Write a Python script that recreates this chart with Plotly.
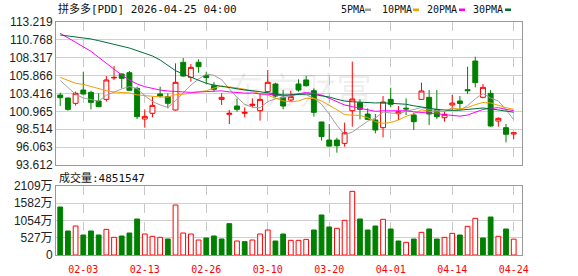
import plotly.graph_objects as go

# ---------------- data ----------------
dates = ["01-29", "01-30",
         "02-02", "02-03", "02-04", "02-05", "02-06", "02-09", "02-10", "02-11", "02-12", "02-13",
         "02-17", "02-18", "02-19", "02-20", "02-23", "02-24", "02-25", "02-26", "02-27",
         "03-02", "03-03", "03-04", "03-05", "03-06", "03-09", "03-10", "03-11", "03-12", "03-13",
         "03-16", "03-17", "03-18", "03-19", "03-20", "03-23", "03-24", "03-25", "03-26", "03-27",
         "03-30", "03-31", "04-01", "04-02", "04-06", "04-07", "04-08", "04-09", "04-10",
         "04-13", "04-14", "04-15", "04-16", "04-17", "04-20", "04-21", "04-22", "04-23", "04-24"]

tick_dates = ["02-03", "02-13", "02-26", "03-10", "03-20", "04-01", "04-14", "04-24"]

open_ = [103.21, 102.80, 102.07, 103.89, 103.57, 102.39, 102.61, 105.55, 106.09, 106.27,
         104.12, 99.92, 100.70, 103.35, 102.98, 101.15, 107.69, 105.63, 107.69, 105.86,
         104.49, 102.61, 100.56, 101.70, 100.70, 101.79, 101.06, 103.67, 104.72, 102.89,
         102.52, 104.72, 105.27, 103.80, 99.51, 97.04, 97.04, 96.58, 101.06, 102.16,
         100.60, 99.78, 98.73, 102.61, 100.65, 101.40, 100.47, 102.61, 102.89, 101.24,
         100.10, 101.84, 102.39, 103.94, 107.87, 102.89, 103.44, 99.64, 98.73, 97.86]
high = [103.53, 102.85, 103.67, 106.41, 103.80, 103.44, 105.81, 107.18, 106.18, 106.50,
        104.35, 101.24, 102.98, 104.35, 103.44, 107.55, 108.28, 107.46, 108.10, 106.41,
        104.99, 103.44, 101.15, 102.71, 101.52, 102.75, 103.35, 106.64, 104.90, 103.89,
        103.80, 105.36, 105.81, 104.12, 99.55, 99.23, 97.36, 99.42, 107.78, 102.61,
        101.38, 100.60, 103.07, 104.21, 101.70, 102.75, 100.79, 104.90, 103.89, 103.89,
        100.92, 103.21, 103.07, 107.09, 108.46, 104.72, 103.89, 100.15, 99.23, 98.09]
low = [101.70, 101.06, 101.75, 103.25, 101.24, 101.55, 102.30, 105.27, 104.12, 103.80,
       99.90, 98.73, 100.15, 102.89, 101.38, 101.06, 105.72, 105.04, 106.27, 104.81,
       103.67, 101.84, 99.23, 100.92, 100.15, 101.52, 99.69, 103.53, 102.89, 101.24,
       102.30, 103.67, 104.35, 100.24, 96.95, 96.12, 95.30, 96.12, 98.87, 99.87,
       99.78, 97.95, 97.40, 101.52, 99.78, 100.47, 98.41, 102.52, 99.10, 99.92,
       99.55, 101.15, 101.24, 103.35, 104.26, 102.75, 98.87, 98.87, 96.72, 97.13]
close = [102.84, 101.24, 103.44, 103.35, 102.20, 101.61, 105.27, 105.62, 105.49, 103.85,
         100.24, 100.28, 101.79, 103.07, 102.07, 104.95, 105.81, 107.00, 107.09, 105.59,
         103.99, 102.89, 100.70, 101.24, 100.83, 101.93, 102.61, 104.95, 103.07, 101.70,
         102.98, 103.89, 104.49, 100.83, 97.50, 96.20, 96.25, 98.04, 102.66, 101.24,
         99.87, 98.41, 102.25, 101.93, 100.92, 101.30, 99.55, 103.76, 100.60, 100.24,
         100.56, 102.10, 102.05, 103.80, 104.90, 104.26, 98.96, 100.01, 97.82, 98.04]
prev_close_before = 103.60

ma5 = [105.20, 104.20, 103.30, 102.80, 102.61, 102.37, 103.17, 103.61, 104.04, 104.37,
       104.09, 103.10, 102.33, 101.85, 101.49, 102.43, 103.54, 104.58, 105.38, 106.09,
       105.90, 105.31, 104.05, 102.88, 101.93, 101.52, 101.46, 102.31, 102.68, 102.85,
       103.06, 103.32, 103.23, 102.78, 101.94, 100.58, 99.05, 97.76, 98.13, 98.88,
       99.61, 100.04, 100.89, 100.74, 100.68, 100.96, 101.19, 101.49, 101.23, 101.09,
       100.94, 101.45, 101.11, 101.75, 102.68, 103.42, 102.79, 102.39, 101.19, 99.82]
ma10 = [105.63, 105.18, 104.81, 104.67, 104.35, 104.03, 103.80, 103.62, 103.53, 103.49,
        103.23, 103.14, 102.97, 102.94, 102.93, 103.26, 103.32, 103.46, 103.62, 103.79,
        104.16, 104.43, 104.32, 104.13, 104.01, 103.71, 103.39, 103.18, 102.78, 102.39,
        102.29, 102.39, 102.77, 102.73, 102.40, 101.82, 101.19, 100.50, 100.45, 100.41,
        100.10, 99.55, 99.33, 99.44, 99.78, 100.29, 100.62, 101.19, 100.98, 100.88,
        100.95, 101.32, 101.30, 101.49, 101.89, 102.18, 102.12, 101.75, 101.47, 101.25]
ma20 = [111.66, 111.07, 110.47, 109.88, 109.20, 108.37, 107.55, 106.73, 105.95, 105.27,
        104.72, 104.35, 104.08, 103.89, 103.76, 103.67, 103.57, 103.57, 103.62, 103.64,
        103.70, 103.78, 103.64, 103.54, 103.47, 103.49, 103.35, 103.32, 103.20, 103.09,
        103.23, 103.41, 103.54, 103.43, 103.20, 102.76, 102.29, 101.84, 101.62, 101.40,
        101.19, 100.97, 101.05, 101.08, 101.09, 101.05, 100.90, 100.84, 100.72, 100.65,
        100.52, 100.44, 100.31, 100.46, 100.83, 101.23, 101.37, 101.47, 101.23, 101.07]
ma30 = [111.44, 111.30, 111.16, 111.07, 110.89, 110.66, 110.43, 110.20, 109.93, 109.65,
        109.29, 108.92, 108.56, 108.01, 107.32, 106.54, 106.09, 105.63, 105.18, 104.81,
        104.58, 104.40, 104.21, 104.03, 103.89, 103.80, 103.67, 103.53, 103.39, 103.22,
        103.23, 103.32, 103.35, 103.27, 103.11, 102.93, 102.63, 102.38, 102.28, 102.20,
        102.18, 102.12, 102.14, 102.10, 102.06, 101.94, 101.73, 101.62, 101.41, 101.23,
        101.11, 101.09, 101.13, 101.22, 101.35, 101.43, 101.31, 101.14, 100.97, 100.85]

# volume in 万 shares
volume = [1467, 734, 886, 611, 734, 611, 784, 540, 581, 672,
          1100, 642, 571, 540, 489, 1528, 672, 642, 458, 520,
          581, 489, 958, 428, 408, 458, 642, 764, 428, 642,
          448, 448, 479, 764, 1223, 856, 815, 1060, 1946, 1100,
          764, 886, 1090, 795, 428, 387, 489, 693, 795, 489,
          540, 662, 611, 876, 1121, 520, 1161, 571, 795, 485.1547]

price_ticks = [93.612, 96.063, 98.514, 100.965, 103.416, 105.866, 108.317, 110.768, 113.219]
price_labels = ["93.612", "96.063", "98.514", "100.965", "103.416", "105.866", "108.317", "110.768", "113.219"]
vol_ticks = [0, 527, 1054, 1582, 2109]
vol_labels = ["0", "527万", "1054万", "1582万", "2109万"]

title_text = "拼多多[PDD] 2026-04-25 04:00"
vol_title = "成交量:4851547"
ma_names = ["5PMA", "10PMA", "20PMA", "30PMA"]
ma_colors = ["#a0a0a0", "#f0a000", "#ff00ff", "#006f3a"]

# ---------------- figure ----------------
RED = "#ff0000"
GREEN = "#008000"
xs = list(range(len(dates)))
tickvals = [dates.index(d) for d in tick_dates]

fig = go.Figure()
fig.add_trace(go.Candlestick(
    x=xs, open=open_, high=high, low=low, close=close,
    increasing=dict(line=dict(color=RED, width=1), fillcolor="#ffffff"),
    decreasing=dict(line=dict(color=GREEN, width=1), fillcolor=GREEN),
    whiskerwidth=0, showlegend=False, hoverinfo="skip", xaxis="x", yaxis="y"))

for name, col, ser in zip(ma_names, ma_colors, [ma5, ma10, ma20, ma30]):
    fig.add_trace(go.Scatter(x=xs, y=ser, mode="lines", name=name,
                             line=dict(color=col, width=1), showlegend=False,
                             hoverinfo="skip", xaxis="x", yaxis="y"))

prevs = [prev_close_before] + close[:-1]
up = [c > p for c, p in zip(close, prevs)]
fig.add_trace(go.Bar(
    x=xs, y=volume, width=0.62,
    marker=dict(color=["#ffffff" if u else GREEN for u in up],
                line=dict(color=[RED if u else GREEN for u in up], width=1)),
    showlegend=False, hoverinfo="skip", xaxis="x2", yaxis="y2"))

W, H = 578, 276
L, R, T, B = 56, 56, 22, 21
PH = H - T - B
PW = W - L - R


def py(abs_y):
    return (H - B - abs_y) / PH


def px(abs_x):
    return (abs_x - L) / PW


axis_common = dict(showline=True, mirror=True, linecolor="#999999", linewidth=1,
                   zeroline=False, fixedrange=True, automargin=False)
xr = [-0.55, 60.08]

fig.update_layout(
    template="none",
    width=W, height=H,
    margin=dict(l=L, r=R, t=T, b=B, pad=0, autoexpand=False),
    paper_bgcolor="#ffffff", plot_bgcolor="#ffffff",
    showlegend=False, bargap=0,
    boxgap=0.36, boxgroupgap=0,
    xaxis=dict(domain=[0, 1], range=xr, anchor="y", tickvals=tickvals, showticklabels=False,
               showgrid=True, gridcolor="#c8c8c8", griddash="dash", gridwidth=1,
               rangeslider=dict(visible=False), ticks="", **axis_common),
    yaxis=dict(domain=[py(165), 1], range=[price_ticks[0], price_ticks[-1]], anchor="x",
               tickvals=price_ticks, ticktext=price_labels, ticks="",
               tickfont=dict(family="Liberation Sans, Arial", size=12, color="#222222"),
               showgrid=True, gridcolor="#d0d0d0", gridwidth=1, **axis_common),
    xaxis2=dict(domain=[0, 1], range=xr, anchor="y2", tickvals=tickvals, ticktext=tick_dates,
                ticks="", ticklabelstandoff=5,
                tickfont=dict(family="DejaVu Sans Mono", size=10, color=RED),
                showgrid=True, gridcolor="#c8c8c8", griddash="dash", gridwidth=1, **axis_common),
    yaxis2=dict(domain=[0, py(186)], range=[0, 2109], anchor="x2",
                tickvals=vol_ticks, ticktext=vol_labels, ticks="",
                tickfont=dict(family="Liberation Sans, Noto Sans CJK SC", size=12, color="#222222"),
                showgrid=True, gridcolor="#d0d0d0", gridwidth=1, **axis_common),
)

annotations = [
    dict(x=0, y=py(9.5), xref="paper", yref="paper", xanchor="left", yanchor="middle",
         text=title_text, showarrow=False,
         font=dict(family="DejaVu Sans Mono, Noto Sans CJK SC", size=11, color="#111111")),
    dict(x=px(57), y=py(177.5), xref="paper", yref="paper", xanchor="left", yanchor="middle",
         text=vol_title, showarrow=False,
         font=dict(family="DejaVu Sans Mono, Noto Sans CJK SC", size=11, color="#111111")),
    dict(x=px(300), y=py(88), xref="paper", yref="paper", xanchor="center", yanchor="middle",
         text="东方财富", showarrow=False,
         font=dict(family="Noto Sans CJK SC", size=36, color="rgba(0,0,0,0.07)")),
]
legend_text_x = [339, 380, 425, 471]
legend_dash_x = [365, 413, 459, 505]
shapes = []
for name, col, tx, dx in zip(ma_names, ma_colors, legend_text_x, legend_dash_x):
    annotations.append(dict(x=px(tx), y=py(9.5), xref="paper", yref="paper", xanchor="left",
                            yanchor="middle", text=name, showarrow=False,
                            font=dict(family="DejaVu Sans Mono", size=10, color="#111111")))
    shapes.append(dict(type="rect", xref="paper", yref="paper", x0=px(dx), x1=px(dx + 6),
                       y0=py(11), y1=py(8.5), fillcolor=col, line=dict(width=0)))
fig.update_layout(annotations=annotations, shapes=shapes)

fig.write_html("out.html", config={"displayModeBar": False, "staticPlot": True})
